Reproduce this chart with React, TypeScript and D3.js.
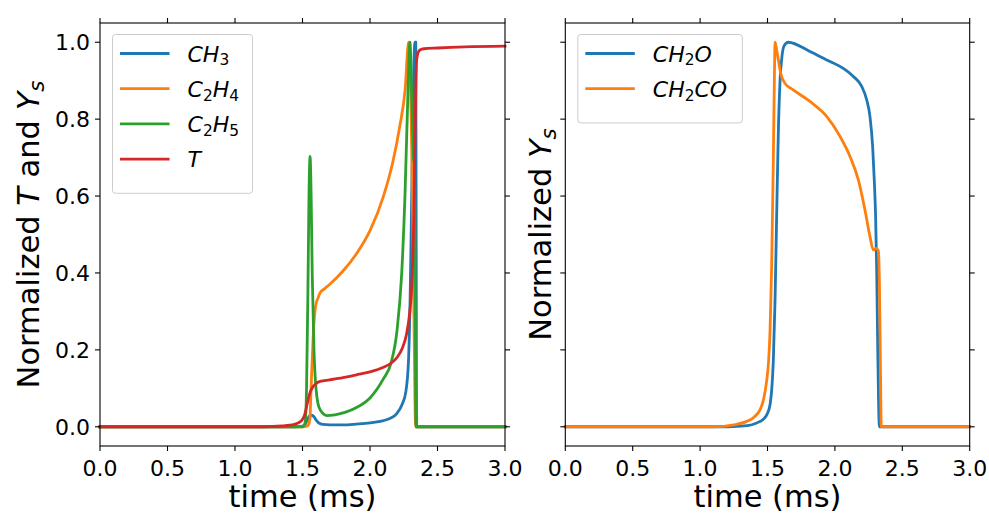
import React from "react";
import * as d3 from "d3";

// ---------- data ----------
const xTicks = [0, 0.5, 1.0, 1.5, 2.0, 2.5, 3.0];
const yTicks = [0, 0.2, 0.4, 0.6, 0.8, 1.0];

const ch3Time = [0, 1.45, 1.5, 1.52, 1.54, 1.555, 1.57, 1.585, 1.6, 1.62, 1.65, 1.7, 1.8, 1.9, 2.0, 2.1, 2.15, 2.2, 2.24, 2.265, 2.285, 2.297, 2.309, 2.321, 2.333, 2.339, 2.342, 2.345, 3.0];
const ch3Vals = [0, 0, 0.002, 0.006, 0.022, 0.029, 0.03, 0.026, 0.018, 0.01, 0.006, 0.005, 0.005, 0.007, 0.01, 0.016, 0.022, 0.035, 0.06, 0.09, 0.17, 0.33, 0.6, 0.88, 1.0, 1.0, 0.5, 0, 0];

const c2h4Time = [0, 1.5, 1.54, 1.555, 1.563, 1.573, 1.583, 1.598, 1.615, 1.63, 1.66, 1.7, 1.8, 1.9, 2.0, 2.1, 2.17, 2.22, 2.26, 2.286, 2.292, 2.31, 2.325, 2.338, 3.0];
const c2h4Vals = [0, 0, 0.003, 0.02, 0.096, 0.183, 0.26, 0.315, 0.335, 0.348, 0.358, 0.37, 0.405, 0.45, 0.51, 0.6, 0.69, 0.78, 0.876, 1.0, 0.98, 0.7, 0.3, 0, 0];

const c2h5Time = [0, 1.5, 1.519, 1.53, 1.54, 1.548, 1.556, 1.564, 1.572, 1.585, 1.6, 1.615, 1.63, 1.65, 1.68, 1.74, 1.82, 1.9, 2.0, 2.1, 2.155, 2.2, 2.235, 2.259, 2.277, 2.296, 2.31, 2.322, 2.33, 2.336, 2.34, 3.0];
const c2h5Vals = [0, 0, 0.01, 0.1, 0.35, 0.6, 0.703, 0.6, 0.4, 0.2, 0.1, 0.06, 0.045, 0.035, 0.029, 0.031, 0.038, 0.05, 0.075, 0.125, 0.165, 0.25, 0.4, 0.6, 0.82, 1.0, 0.85, 0.7, 0.68, 0.3, 0, 0];

const tempTime = [0, 1.2, 1.35, 1.44, 1.49, 1.515, 1.535, 1.555, 1.575, 1.6, 1.63, 1.7, 1.8, 1.9, 2.0, 2.1, 2.155, 2.2, 2.24, 2.27, 2.295, 2.31, 2.325, 2.335, 2.345, 2.355, 2.37, 2.4, 2.5, 2.7, 3.0];
const tempVals = [0, 0, 0.002, 0.006, 0.015, 0.03, 0.06, 0.088, 0.103, 0.112, 0.118, 0.122, 0.128, 0.135, 0.143, 0.155, 0.165, 0.18, 0.205, 0.24, 0.3, 0.37, 0.55, 0.8, 0.95, 0.972, 0.98, 0.983, 0.985, 0.988, 0.99];

const ch2oTime = [0, 1.2, 1.35, 1.42, 1.47, 1.5, 1.52, 1.532, 1.543, 1.556, 1.568, 1.58, 1.593, 1.605, 1.622, 1.654, 1.815, 1.939, 2.062, 2.137, 2.199, 2.236, 2.26, 2.28, 2.292, 2.302, 2.31, 2.318, 2.33, 3.0];
const ch2oVals = [0, 0, 0.003, 0.01, 0.02, 0.035, 0.06, 0.1, 0.17, 0.33, 0.55, 0.76, 0.9, 0.955, 0.99, 1.0, 0.976, 0.954, 0.932, 0.911, 0.885, 0.85, 0.807, 0.729, 0.642, 0.547, 0.41, 0.2, 0, 0];

const ch2coTime = [0, 1.1, 1.25, 1.346, 1.4, 1.444, 1.47, 1.494, 1.508, 1.519, 1.531, 1.543, 1.552, 1.556, 1.565, 1.58, 1.598, 1.63, 1.691, 1.815, 1.939, 2.038, 2.112, 2.174, 2.223, 2.26, 2.285, 2.305, 2.322, 2.33, 2.338, 2.344, 3.0];
const ch2coVals = [0, 0, 0.005, 0.014, 0.025, 0.044, 0.07, 0.12, 0.17, 0.25, 0.42, 0.69, 0.93, 1.0, 0.985, 0.955, 0.919, 0.893, 0.876, 0.846, 0.807, 0.755, 0.703, 0.642, 0.564, 0.495, 0.46, 0.464, 0.458, 0.38, 0.15, 0, 0];

// label parts: [text, italic, subscript]
type Part = [string, boolean, boolean];
const leftSeries = [
  { name: [["CH", true, false], ["3", false, true]] as Part[], color: "#1f77b4", t: ch3Time, v: ch3Vals },
  { name: [["C", true, false], ["2", false, true], ["H", true, false], ["4", false, true]] as Part[], color: "#ff7f0e", t: c2h4Time, v: c2h4Vals },
  { name: [["C", true, false], ["2", false, true], ["H", true, false], ["5", false, true]] as Part[], color: "#2ca02c", t: c2h5Time, v: c2h5Vals },
  { name: [["T", true, false]] as Part[], color: "#d62728", t: tempTime, v: tempVals },
];
const rightSeries = [
  { name: [["CH", true, false], ["2", false, true], ["O", true, false]] as Part[], color: "#1f77b4", t: ch2oTime, v: ch2oVals },
  { name: [["CH", true, false], ["2", false, true], ["CO", true, false]] as Part[], color: "#ff7f0e", t: ch2coTime, v: ch2coVals },
];
const leftYLabel: Part[] = [["Normalized ", false, false], ["T", true, false], [" and ", false, false], ["Y", true, false], ["s", true, true]];
const rightYLabel: Part[] = [["Normalized ", false, false], ["Y", true, false], ["s", true, true]];
const xLabel = "time (ms)";

const FONT = "DejaVu Sans";
const TICK_FS = 22;
const LABEL_FS = 30.5;

function MathText({ parts, fs }: { parts: Part[]; fs: number }) {
  const shift = fs * 0.16;
  let cur = 0;
  return (
    <>
      {parts.map((p, i) => {
        const target = p[2] ? shift : 0;
        const dy = target - cur;
        cur = target;
        return (
          <tspan key={i} dy={dy} fontStyle={p[1] ? "italic" : "normal"} fontSize={p[2] ? fs * 0.7 : fs}>
            {p[0]}
          </tspan>
        );
      })}
    </>
  );
}

type Series = { name: Part[]; color: string; t: number[]; v: number[] };

function Panel({ x0, x1, series, yLabel, showYTickLabels, legendW, yLabelX }: {
  x0: number; x1: number; series: Series[]; yLabel: Part[]; showYTickLabels: boolean; legendW: number; yLabelX: number;
}) {
  const top = 23, bottom = 446;
  const x = d3.scaleLinear().domain([0, 3]).range([x0, x1]);
  const y = d3.scaleLinear().domain([-0.05, 1.05]).range([bottom, top]);
  const fmt = d3.format(".1f");
  const tl = 5;
  const legX = x0 + 12.5, legY = 34.5, rowH = 35.2;
  const legH = 12 + rowH * series.length + 6;
  return (
    <g>
      {series.map((s, i) => {
        const pts = s.t.map((tt, k) => [tt, s.v[k]] as [number, number]);
        const line = d3.line<[number, number]>().x(d => x(d[0])).y(d => y(d[1])).curve(d3.curveMonotoneX);
        return <path key={i} d={line(pts) || ""} fill="none" stroke={s.color} strokeWidth={2.8} strokeLinejoin="round" strokeLinecap="square" />;
      })}
      <rect x={x0} y={top} width={x1 - x0} height={bottom - top} fill="none" stroke="#000" strokeWidth={1.1} />
      {xTicks.map((t, i) => (
        <g key={"xt" + i}>
          <line x1={x(t)} x2={x(t)} y1={bottom} y2={bottom + tl} stroke="#000" strokeWidth={1.1} />
          <line x1={x(t)} x2={x(t)} y1={top} y2={top - tl} stroke="#000" strokeWidth={1.1} />
          <text x={x(t)} y={476} textAnchor="middle" fontFamily={FONT} fontSize={TICK_FS}>{fmt(t)}</text>
        </g>
      ))}
      {yTicks.map((t, i) => (
        <g key={"yt" + i}>
          <line x1={x0} x2={x0 - tl} y1={y(t)} y2={y(t)} stroke="#000" strokeWidth={1.1} />
          <line x1={x1} x2={x1 + tl} y1={y(t)} y2={y(t)} stroke="#000" strokeWidth={1.1} />
          {showYTickLabels && (
            <text x={x0 - 10} y={y(t) + 8} textAnchor="end" fontFamily={FONT} fontSize={TICK_FS}>{fmt(t)}</text>
          )}
        </g>
      ))}
      <text x={(x0 + x1) / 2} y={507} textAnchor="middle" fontFamily={FONT} fontSize={LABEL_FS}>{xLabel}</text>
      <text transform={`translate(${yLabelX},${(top + bottom) / 2}) rotate(-90)`} textAnchor="middle" fontFamily={FONT} fontSize={LABEL_FS}>
        <MathText parts={yLabel} fs={LABEL_FS} />
      </text>
      <rect x={legX} y={legY} width={legendW} height={legH} rx={3} fill="#fff" fillOpacity={0.8} stroke="#cccccc" strokeWidth={1} />
      {series.map((s, i) => {
        const cy = legY + 19 + i * rowH;
        return (
          <g key={"lg" + i}>
            <line x1={legX + 7.5} x2={legX + 57} y1={cy} y2={cy} stroke={s.color} strokeWidth={2.8} />
            <text x={legX + 75} y={cy + 8.3} fontFamily={FONT} fontSize={TICK_FS}>
              <MathText parts={s.name} fs={TICK_FS} />
            </text>
          </g>
        );
      })}
    </g>
  );
}

export default function App() {
  return (
    <div style={{ position: "absolute", left: 0, top: 0 }}>
      <svg width={989} height={514} style={{ display: "block", background: "#fff" }}>
        <Panel x0={100} x1={505} series={leftSeries} yLabel={leftYLabel} showYTickLabels={true} legendW={140} yLabelX={39} />
        <Panel x0={565.3} x1={969.7} series={rightSeries} yLabel={rightYLabel} showYTickLabels={false} legendW={164.5} yLabelX={551} />
      </svg>
    </div>
  );
}
